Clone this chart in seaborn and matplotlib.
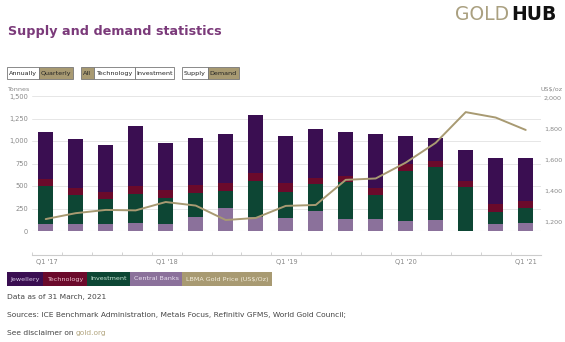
import matplotlib
matplotlib.use("Agg")
import matplotlib.pyplot as plt
from matplotlib.patches import Rectangle
import numpy as np
import pandas as pd
import seaborn as sns

# Quarterly gold demand (tonnes) and LBMA gold price (US$/oz)
quarters = ["Q1 '17", "Q2 '17", "Q3 '17", "Q4 '17",
            "Q1 '18", "Q2 '18", "Q3 '18", "Q4 '18",
            "Q1 '19", "Q2 '19", "Q3 '19", "Q4 '19",
            "Q1 '20", "Q2 '20", "Q3 '20", "Q4 '20",
            "Q1 '21"]
central_banks = [80, 81, 81, 85, 76, 152, 252, 152, 148, 222, 130, 130, 116, 122, -12, 74, 87]
investment = [422, 319, 271, 326, 292, 267, 192, 404, 289, 297, 418, 270, 551, 590, 485, 141, 165]
technology = [78, 81, 85, 93, 88, 92, 93, 85, 93, 73, 67, 81, 72, 70, 75, 80, 81]
jewellery = [523, 538, 518, 663, 525, 519, 541, 648, 529, 538, 481, 593, 316, 248, 338, 515, 477]
gold_price = [1219, 1257, 1278, 1275, 1329, 1306, 1213, 1226, 1304, 1310, 1472, 1481,
              1583, 1711, 1909, 1874, 1794]
year_labels = ["Q1 '17", "Q1 '18", "Q1 '19", "Q1 '20", "Q1 '21"]

C_JEW = "#3a0e51"
C_TECH = "#6b0a2b"
C_INV = "#0d4634"
C_CB = "#8b719b"
C_GOLD = "#a89a72"
C_TITLE = "#7b3a7a"

W, H = 565, 342
DPI = 100

sns.set_theme(style="white")
plt.rcParams["font.family"] = ["DejaVu Sans"]

fig = plt.figure(figsize=(W / DPI, H / DPI), dpi=DPI)


def fx(px):
    return px / W


def fy(py):
    return 1 - py / H


def box(x0, y0, x1, y1, face, edge=None, lw=0.6):
    fig.patches.append(Rectangle((fx(x0), fy(y1)), fx(x1) - fx(x0), fy(y0) - fy(y1),
                                 transform=fig.transFigure, facecolor=face,
                                 edgecolor=edge if edge else face, linewidth=lw))


# Header
fig.text(fx(8), fy(32), "Supply and demand statistics", color=C_TITLE,
         fontsize=9.2, fontweight="bold", va="center", ha="left")
fig.text(fx(455), fy(15), "GOLD", color="#aaa080", fontsize=13.5, va="center", ha="left")
fig.text(fx(557), fy(15), "HUB", color="#111111", fontsize=13.5, fontweight="bold",
         va="center", ha="right")

# Toggle buttons
buttons = [
    (7, 39, "Annually", False), (39, 73, "Quarterly", True),
    (81, 94, "All", True), (94, 135, "Technology", False), (135, 174, "Investment", False),
    (182, 208, "Supply", False), (208, 239, "Demand", True),
]
for x0, x1, label, active in buttons:
    box(x0, 67, x1, 79, C_GOLD if active else "white", edge="#777777", lw=0.6)
    fig.text(fx((x0 + x1) / 2), fy(73.3), label, fontsize=4.6,
             color="#222222", ha="center", va="center")

# Main chart area
left, right, top, bottom = 32, 541, 96, 231
ax = fig.add_axes([fx(left), fy(bottom), fx(right) - fx(left), fy(top) - fy(bottom)])

df = pd.DataFrame({
    "quarter": quarters,
    "cb": central_banks,
    "inv": investment,
    "tech": technology,
    "jew": jewellery,
})
cb_pos = np.clip(df["cb"].to_numpy(), 0, None)
b_inv = cb_pos
b_tech = b_inv + df["inv"].to_numpy()
b_jew = b_tech + df["tech"].to_numpy()

layers = [
    ("cb", np.zeros(len(df)), C_CB),
    ("inv", b_inv, C_INV),
    ("tech", b_tech, C_TECH),
    ("jew", b_jew, C_JEW),
]
for col, base, color in layers:
    sns.barplot(data=df, x="quarter", y=col, order=quarters, color=color,
                saturation=1, width=0.5, bottom=base, ax=ax, linewidth=0, errorbar=None)

xmin = -0.457
ax.set_xlim(xmin, xmin + (right - left) / 30.0)
ax.set_ylim(0, 1500)
ax.set_yticks(np.arange(0, 1501, 250))
ax.set_yticklabels([f"{v:,}" for v in range(0, 1501, 250)])
ax.tick_params(axis="y", labelsize=4.8, colors="#888888", length=0, pad=3)
ax.set_xticks([])
ax.set_xlabel("")
ax.set_ylabel("")
ax.grid(axis="y", color="#e6e6e6", linewidth=0.7)
ax.set_axisbelow(True)
for s in ax.spines.values():
    s.set_visible(False)
ax.axhline(0, color="#c8c8c8", linewidth=0.8, zorder=0.5)

ax2 = ax.twinx()
sns.lineplot(x=np.arange(len(quarters)), y=gold_price, ax=ax2, color=C_GOLD, linewidth=1.4)
ax2.set_ylim(1142, 2013)
ax2.set_yticks(np.arange(1200, 2001, 200))
ax2.set_yticklabels([f"{v:,}" for v in range(1200, 2001, 200)])
ax2.tick_params(axis="y", labelsize=4.6, colors="#888888", length=0, pad=2)
ax2.grid(False)
for s in ax2.spines.values():
    s.set_visible(False)

fig.text(fx(7), fy(89), "Tonnes", fontsize=4.6, color="#888888", ha="left", va="center")
fig.text(fx(563), fy(89), "US$/oz", fontsize=4.6, color="#888888", ha="right", va="center")

# Time axis below the chart
axx = fig.add_axes([fx(left), fy(255), fx(right) - fx(left), 0.001])
axx.set_xlim(ax.get_xlim())
axx.set_yticks([])
axx.set_facecolor("none")
for name, s in axx.spines.items():
    s.set_visible(name == "top")
axx.spines["top"].set_color("#cccccc")
axx.spines["top"].set_linewidth(0.8)
axx.xaxis.set_ticks_position("top")
axx.set_xticks(np.arange(0, len(quarters), 4))
axx.set_xticklabels(year_labels)
axx.set_xticks(np.arange(len(quarters)) - 0.5, minor=True)
axx.tick_params(axis="x", which="major", length=0, labelsize=4.8, colors="#888888",
                labeltop=False, labelbottom=True, pad=3)
axx.tick_params(axis="x", which="minor", direction="out", length=2.5, color="#cccccc",
                width=0.6, top=True, bottom=False)

# Legend strip
legend_items = [
    (7, 43, "Jewellery", C_JEW, "#d7c8e6"),
    (43, 87, "Technology", C_TECH, "#f0c3d0"),
    (87, 130, "Investment", C_INV, "#c9e6d6"),
    (130, 182, "Central Banks", C_CB, "#ece3f2"),
    (182, 272, "LBMA Gold Price (US$/Oz)", C_GOLD, "#f3eddc"),
]
for x0, x1, label, face, tcol in legend_items:
    box(x0, 272, x1, 285.5, face, lw=0)
    fig.text(fx((x0 + x1) / 2), fy(279), label, fontsize=4.6, color=tcol,
             ha="center", va="center")

# Footer
fig.text(fx(7), fy(297), "Data as of 31 March, 2021", fontsize=5.4, color="#444444",
         ha="left", va="center")
fig.text(fx(7), fy(315), "Sources: ICE Benchmark Administration, Metals Focus, Refinitiv GFMS, World Gold Council;",
         fontsize=5.4, color="#444444", ha="left", va="center")
t = fig.text(fx(7), fy(333), "See disclaimer on ", fontsize=5.4, color="#444444",
             ha="left", va="center")
fig.canvas.draw()
bb = t.get_window_extent()
fig.text(bb.x1 / W, fy(333), "gold.org", fontsize=5.4, color="#b3a680", ha="left", va="center")

fig.savefig("out.png", dpi=DPI)
